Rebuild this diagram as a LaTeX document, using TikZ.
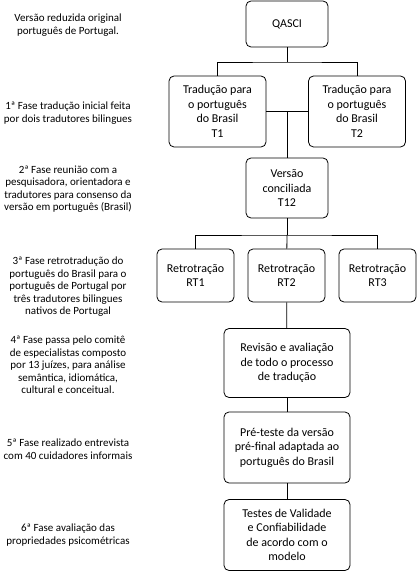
\documentclass[tikz,border=0pt]{standalone}
\usepackage{fontspec}
\setmainfont{Carlito}
\usepackage{tikz}
\usetikzlibrary{positioning}
\tikzset{
  etapa/.style={draw, thick, rounded corners=5pt, align=center, inner sep=2pt,
    font=\fontsize{12}{14.5}\selectfont},
  fase/.style={align=center, inner sep=0pt, font=\fontsize{11}{12.5}\selectfont},
  liga/.style={thick}
}

\begin{document}
\begin{tikzpicture}[x=1pt, y=-1pt]
\useasboundingbox (0,0) rectangle (418,572);
% etapas
\node[etapa, minimum width=82pt, minimum height=46pt] (QA) at (287,24) {QASCI};
\node[etapa, minimum width=97pt, minimum height=71pt] (T1) at (217.5,111.5) {Tradução para\\o português\\do Brasil\\T1};
\node[etapa, minimum width=97pt, minimum height=71pt] (T2) at (357,111.5) {Tradução para\\o português\\do Brasil\\T2};
\node[etapa, minimum width=82pt, minimum height=60pt] (T12) at (287,188) {Versão\\conciliada\\T12};
\node[etapa, minimum width=77pt, minimum height=53pt] (RT1) at (195.5,275.5) {Retrotração\\RT1};
\node[etapa, minimum width=77pt, minimum height=53pt] (RT2) at (286.5,275.5) {Retrotração\\RT2};
\node[etapa, minimum width=77pt, minimum height=53pt] (RT3) at (377.5,275.5) {Retrotração\\RT3};
\node[etapa, minimum width=126pt, minimum height=69pt] (REV) at (287,363) {Revisão e avaliação\\de todo o processo\\de tradução};
\node[etapa, minimum width=126pt, minimum height=71pt] (PRE) at (287,447.5) {Pré-teste da versão\\pré-final adaptada ao\\português do Brasil};
\node[etapa, minimum width=126pt, minimum height=71pt] (TES) at (287,535) {Testes de Validade\\e Confiabilidade\\de acordo com o\\modelo};
% fases
\node[fase] (F0) at (68,25) {Versão reduzida original\\português de Portugal.};
\node[fase] (F1) at (68,113) {1ª Fase tradução inicial feita\\por dois tradutores bilingues};
\node[fase] (F2) at (68,189) {2ª Fase reunião com a\\pesquisadora, orientadora e\\tradutores para consenso da\\versão em português (Brasil)};
\node[fase] (F3) at (68,287) {3ª Fase retrotradução do\\português do Brasil para o\\português de Portugal por\\três tradutores bilingues\\nativos de Portugal};
\node[fase] (F4) at (68,365) {4ª Fase passa pelo comitê\\de especialistas composto\\por 13 juízes, para análise\\semântica, idiomática,\\cultural e conceitual.};
\node[fase] (F5) at (68,449) {5ª Fase realizado entrevista\\com 40 cuidadores informais};
\node[fase] (F6) at (68,535) {6ª Fase avaliação das\\propriedades psicométricas};
% ligacoes
\coordinate (s1) at (287,62);
\coordinate (s2) at (287,111.5);
\coordinate (s3) at (287,235);
\draw[liga] (QA) -- (s1);
\draw[liga] (T1.north) |- (s1) -| (T2.north);
\draw[liga] (T1) -- (T2);
\draw[liga] (s2) -- (T12);
\draw[liga] (T12) -- (s3);
\draw[liga] (RT1.north) |- (s3) -| (RT3.north);
\draw[liga] (s3) -- (RT2);
\draw[liga] (RT2) -- (REV);
\draw[liga] (REV) -- (PRE);
\draw[liga] (PRE) -- (TES);
\end{tikzpicture}
\end{document}
